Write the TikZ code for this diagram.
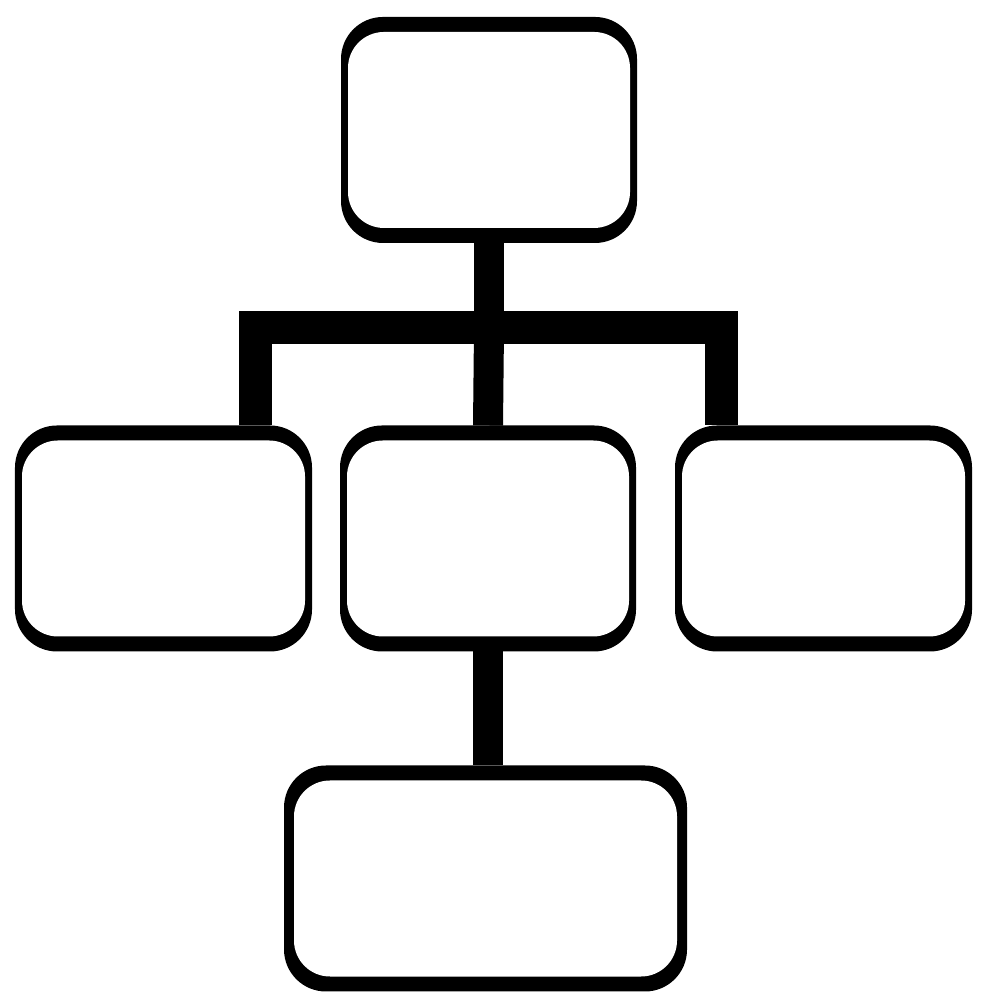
\documentclass[tikz,border=0pt]{standalone}
\usepackage{tikz}
\usetikzlibrary{shapes,arrows}

\tikzset{
	boxwall/.store in=\boxwall, boxwall=0.07cm,
	chartbox/.style={fill=black, rounded corners=0.42cm, inner sep=0pt, outer sep=0pt,
		minimum width=#1, minimum height=2.26cm,
		path picture={\fill[white, rounded corners=0.36cm]
			([xshift=\boxwall, yshift=-0.15cm]path picture bounding box.north west) rectangle
			([xshift=-\boxwall, yshift=0.15cm]path picture bounding box.south east);}},
	chartbox/.default=2.96cm,
	link/.style={line width=0.3cm, line join=miter, line cap=butt}
}

\begin{document}
\begin{tikzpicture}
	
	% Frame
	\useasboundingbox (0,0) rectangle (10,10);
	
	% Boxes
	\node[chartbox] (root) at (4.89,8.70) {};
	\node[chartbox=2.97cm] (left) at (1.635,4.615) {};
	\node[chartbox] (mid) at (4.88,4.615) {};
	\node[chartbox=2.97cm] (right) at (8.235,4.615) {};
	\node[chartbox=4.03cm, boxwall=0.10cm] (leaf) at (4.855,1.215) {};
	
	% Branch points
	\coordinate (hub) at (4.89,6.72);
	\coordinate (lx) at (2.555,6.72);
	\coordinate (rx) at (7.215,6.72);
	
	% Connectors
	\draw[link] (root.south) -- (hub);
	\draw[link, line width=0.33cm] (left.north -| lx) |- (hub) -| (right.north -| rx);
	\draw[link] (hub) -- (mid.north);
	\draw[link] (mid.south) -- (mid.south |- leaf.north);
	
\end{tikzpicture}
\end{document}
